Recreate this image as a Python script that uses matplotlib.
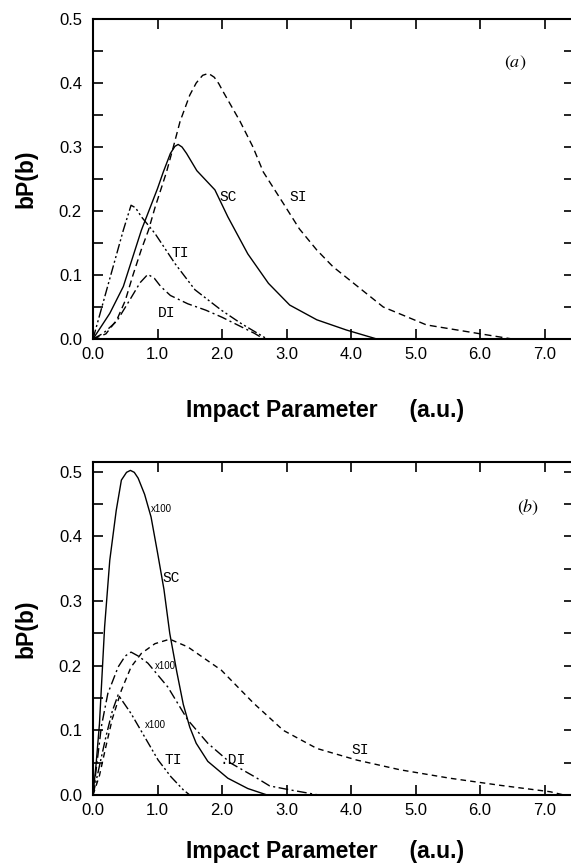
import matplotlib
matplotlib.use("Agg")
import matplotlib.pyplot as plt
import numpy as np
from matplotlib.ticker import MultipleLocator, FormatStrFormatter

plt.rcParams['mathtext.fontset'] = 'stix'

# ---------------- Panel (a) data ----------------
sc_a_x = [0, 0.26, 0.47, 0.75, 1.0, 1.09, 1.2, 1.27, 1.32, 1.38, 1.45, 1.61, 1.89, 2.09, 2.40, 2.72, 3.05, 3.47, 3.93, 4.40]
sc_a_y = [0, 0.04, 0.082, 0.17, 0.235, 0.261, 0.29, 0.301, 0.304, 0.300, 0.29, 0.263, 0.233, 0.191, 0.133, 0.087, 0.053, 0.030, 0.014, 0]

si_a_x = [0, 0.2, 0.37, 0.5, 0.62, 0.75, 0.86, 0.96, 1.14, 1.24, 1.35, 1.50, 1.60, 1.70, 1.79, 1.88, 1.95, 2.02, 2.28,
          2.48, 2.64, 2.95, 3.2, 3.47, 3.72, 3.98, 4.5, 5.17, 5.95, 6.5]
si_a_y = [0, 0.008, 0.03, 0.06, 0.1, 0.14, 0.17, 0.205, 0.261, 0.298, 0.34, 0.381, 0.400, 0.412, 0.415, 0.409, 0.399,
          0.386, 0.34, 0.30, 0.261, 0.212, 0.172, 0.139, 0.113, 0.092, 0.05, 0.022, 0.009, 0]

ti_a_x = [0, 0.24, 0.47, 0.59, 0.66, 0.75, 0.96, 1.27, 1.58, 1.99, 2.30, 2.5, 2.7]
ti_a_y = [0, 0.087, 0.17, 0.209, 0.205, 0.191, 0.165, 0.118, 0.077, 0.045, 0.024, 0.012, 0]

di_a_x = [0, 0.16, 0.37, 0.57, 0.73, 0.85, 0.95, 1.05, 1.2, 1.47, 1.75, 2.0, 2.3, 2.5, 2.65]
di_a_y = [0, 0.009, 0.028, 0.061, 0.088, 0.101, 0.095, 0.082, 0.068, 0.055, 0.045, 0.034, 0.019, 0.009, 0]

# ---------------- Panel (b) data ----------------
sc_b_x = [0, 0.05, 0.1, 0.18, 0.26, 0.36, 0.44, 0.52, 0.58, 0.64, 0.7, 0.8, 0.9, 1.0, 1.1, 1.19, 1.3, 1.4, 1.5, 1.6,
          1.78, 2.09, 2.4, 2.7]
sc_b_y = [0, 0.05, 0.11, 0.26, 0.363, 0.44, 0.487, 0.499, 0.502, 0.499, 0.49, 0.465, 0.43, 0.375, 0.318, 0.25, 0.19,
          0.14, 0.105, 0.08, 0.052, 0.026, 0.010, 0.0]

si_b_x = [0, 0.1, 0.2, 0.3, 0.44, 0.59, 0.75, 0.96, 1.19, 1.47, 1.99, 2.49, 2.95, 3.47, 4.09, 4.76, 5.53, 6.31, 7.09, 7.3]
si_b_y = [0, 0.03, 0.075, 0.118, 0.162, 0.198, 0.219, 0.234, 0.241, 0.229, 0.193, 0.142, 0.10, 0.072, 0.054, 0.039,
          0.026, 0.015, 0.005, 0]

di_b_x = [0, 0.05, 0.13, 0.23, 0.39, 0.5, 0.59, 0.7, 0.85, 1.16, 1.47, 1.78, 2.14, 2.51, 2.74, 3.05, 3.5]
di_b_y = [0, 0.04, 0.106, 0.157, 0.198, 0.215, 0.221, 0.215, 0.204, 0.167, 0.116, 0.08, 0.049, 0.028, 0.014, 0.008, 0]

ti_b_x = [0, 0.1, 0.2, 0.3, 0.39, 0.59, 0.80, 1.01, 1.21, 1.40, 1.5]
ti_b_y = [0, 0.045, 0.09, 0.13, 0.155, 0.126, 0.09, 0.054, 0.028, 0.008, 0]

x_ticks = [0, 1, 2, 3, 4, 5, 6, 7]
y_ticks = [0.0, 0.1, 0.2, 0.3, 0.4, 0.5]

fig = plt.figure(figsize=(5.71, 8.65), dpi=100)

ax_w = 481 / 571
ax_l = 93 / 571
ax_a = fig.add_axes([ax_l, (865 - 339) / 865, ax_w, 320 / 865])
ax_b = fig.add_axes([ax_l, (865 - 795) / 865, ax_w, 333 / 865])

lw = 1.0
st_si_a = dict(color='black', lw=lw, dashes=(5, 3))
st_si_b = dict(color='black', lw=lw, dashes=(4, 3))
st_ti = dict(color='black', lw=lw, dashes=(7, 2, 1.5, 2, 1.5, 2))
st_di = dict(color='black', lw=lw, dashes=(7, 2.5, 1.5, 2.5))

ax_a.plot(sc_a_x, sc_a_y, color='black', lw=lw)
ax_a.plot(si_a_x, si_a_y, **st_si_a)
ax_a.plot(ti_a_x, ti_a_y, **st_ti)
ax_a.plot(di_a_x, di_a_y, **st_di)

ax_b.plot(sc_b_x, sc_b_y, color='black', lw=lw)
ax_b.plot(si_b_x, si_b_y, **st_si_b)
ax_b.plot(ti_b_x, ti_b_y, **st_ti)
ax_b.plot(di_b_x, di_b_y, **st_di)

xmax = 481 / 64.5
for ax, ytop, xlab_off in ((ax_a, 0.5, -0.222), (ax_b, 0.515, -0.171)):
    ax.set_xlim(0, xmax)
    ax.set_ylim(0, ytop)
    ax.set_xticks(x_ticks)
    ax.set_yticks(y_ticks)
    ax.yaxis.set_minor_locator(MultipleLocator(0.05))
    ax.xaxis.set_major_formatter(FormatStrFormatter('%.1f'))
    ax.yaxis.set_major_formatter(FormatStrFormatter('%.1f'))
    ax.tick_params(which='both', direction='in', top=True, right=True, length=7, width=1.2)
    ax.tick_params(axis='y', which='major', pad=8)
    ax.tick_params(axis='x', which='major', pad=6)
    for lab in ax.get_xticklabels() + ax.get_yticklabels():
        lab.set_fontfamily('Liberation Sans')
        lab.set_fontsize(12)
    for s in ax.spines.values():
        s.set_linewidth(1.5)
    ax.text(-0.14, 0.5, 'bP(b)', transform=ax.transAxes, rotation=90, ha='center', va='center',
            fontfamily='Liberation Sans', fontweight='bold', fontsize=16.5)
    ax.text(0.482, xlab_off, 'Impact Parameter     (a.u.)', transform=ax.transAxes, ha='center', va='center',
            fontfamily='Liberation Sans', fontweight='bold', fontsize=16.5)

lab_kw = dict(fontfamily='Liberation Mono', fontsize=10.5, ha='center', va='center')
ax_a.text(2.10, 0.222, 'SC', **lab_kw)
ax_a.text(3.18, 0.222, 'SI', **lab_kw)
ax_a.text(1.35, 0.134, 'TI', **lab_kw)
ax_a.text(1.14, 0.040, 'DI', **lab_kw)
ax_a.text(6.54, 0.431, r'$(a)$', fontsize=13, ha='center', va='center')

ax_b.text(1.22, 0.335, 'SC', **lab_kw)
ax_b.text(4.14, 0.070, 'SI', **lab_kw)
ax_b.text(1.25, 0.054, 'TI', **lab_kw)
ax_b.text(2.17, 0.054, '.DI', **lab_kw)
ax_b.text(6.74, 0.445, r'$(b)$', fontsize=13, ha='center', va='center')
small = dict(fontfamily='Liberation Sans', fontsize=7, ha='center', va='center')
ax_b.text(1.06, 0.442, 'x100', **small)
ax_b.text(1.12, 0.200, 'x100', **small)
ax_b.text(0.96, 0.108, 'x100', **small)

fig.savefig('out.png', dpi=100)
